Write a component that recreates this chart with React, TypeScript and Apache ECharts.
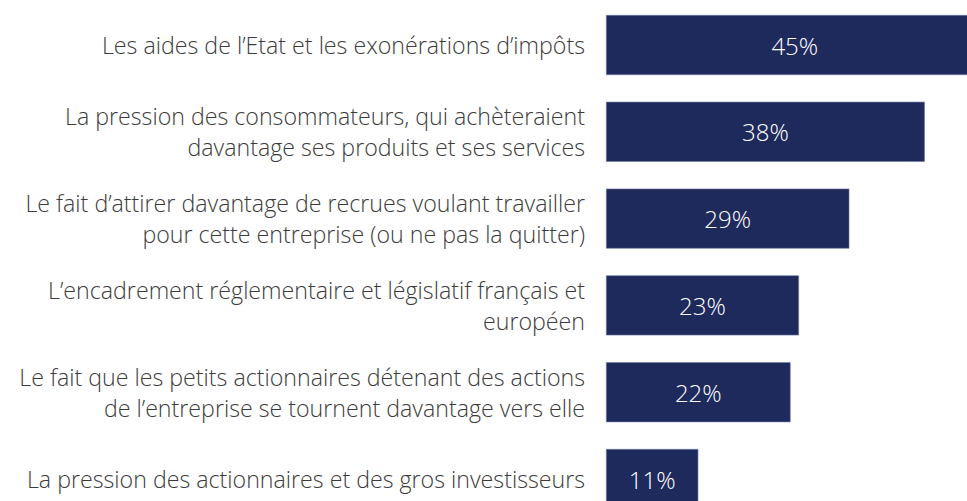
import React, { useEffect, useRef } from "react";
import * as echarts from "echarts";

const categories: string[] = [
  "Les aides de l’Etat et les exonérations d’impôts",
  "La pression des consommateurs, qui achèteraient\ndavantage ses produits et ses services",
  "Le fait d’attirer davantage de recrues voulant travailler\npour cette entreprise (ou ne pas la quitter)",
  "L’encadrement réglementaire et législatif français et\neuropéen",
  "Le fait que les petits actionnaires détenant des actions\nde l’entreprise se tournent davantage vers elle",
  "La pression des actionnaires et des gros investisseurs",
];
const values: number[] = [45, 38, 29, 23, 22, 11];

const FONT = "'Open Sans', 'Noto Sans', sans-serif";

export default function App() {
  const ref = useRef<HTMLDivElement>(null);
  useEffect(() => {
    if (!ref.current) return;
    const chart = echarts.init(ref.current, undefined, { renderer: "svg" });
    chart.setOption({
      animation: false,
      backgroundColor: "#ffffff",
      grid: { left: 606, top: 1.6, width: 419.5, height: 520.8, containLabel: false },
      xAxis: {
        type: "value",
        min: 0,
        max: 50,
        show: false,
      },
      yAxis: {
        type: "category",
        inverse: true,
        data: categories,
        axisLine: { show: false },
        axisTick: { show: false },
        axisLabel: {
          margin: 21,
          color: "#3b3b3b",
          fontFamily: FONT,
          fontWeight: 300,
          fontSize: 23.2,
          lineHeight: 31,
          align: "right",
        },
      },
      series: [
        {
          type: "bar",
          data: values,
          barWidth: 60,
          itemStyle: { color: "#1e295c", borderColor: "#6d7aa3", borderWidth: 0.6 },
          label: {
            show: true,
            position: "inside",
            color: "#ffffff",
            fontFamily: FONT,
            fontWeight: 300,
            fontSize: 24,
            formatter: "{c}%",
          },
        },
      ],
    });
    return () => chart.dispose();
  }, []);
  return (
    <div style={{ position: "fixed", left: 0, top: 0, width: 967, height: 501, overflow: "hidden", background: "#fff" }}>
      <div ref={ref} style={{ width: 1040, height: 530 }} />
    </div>
  );
}
